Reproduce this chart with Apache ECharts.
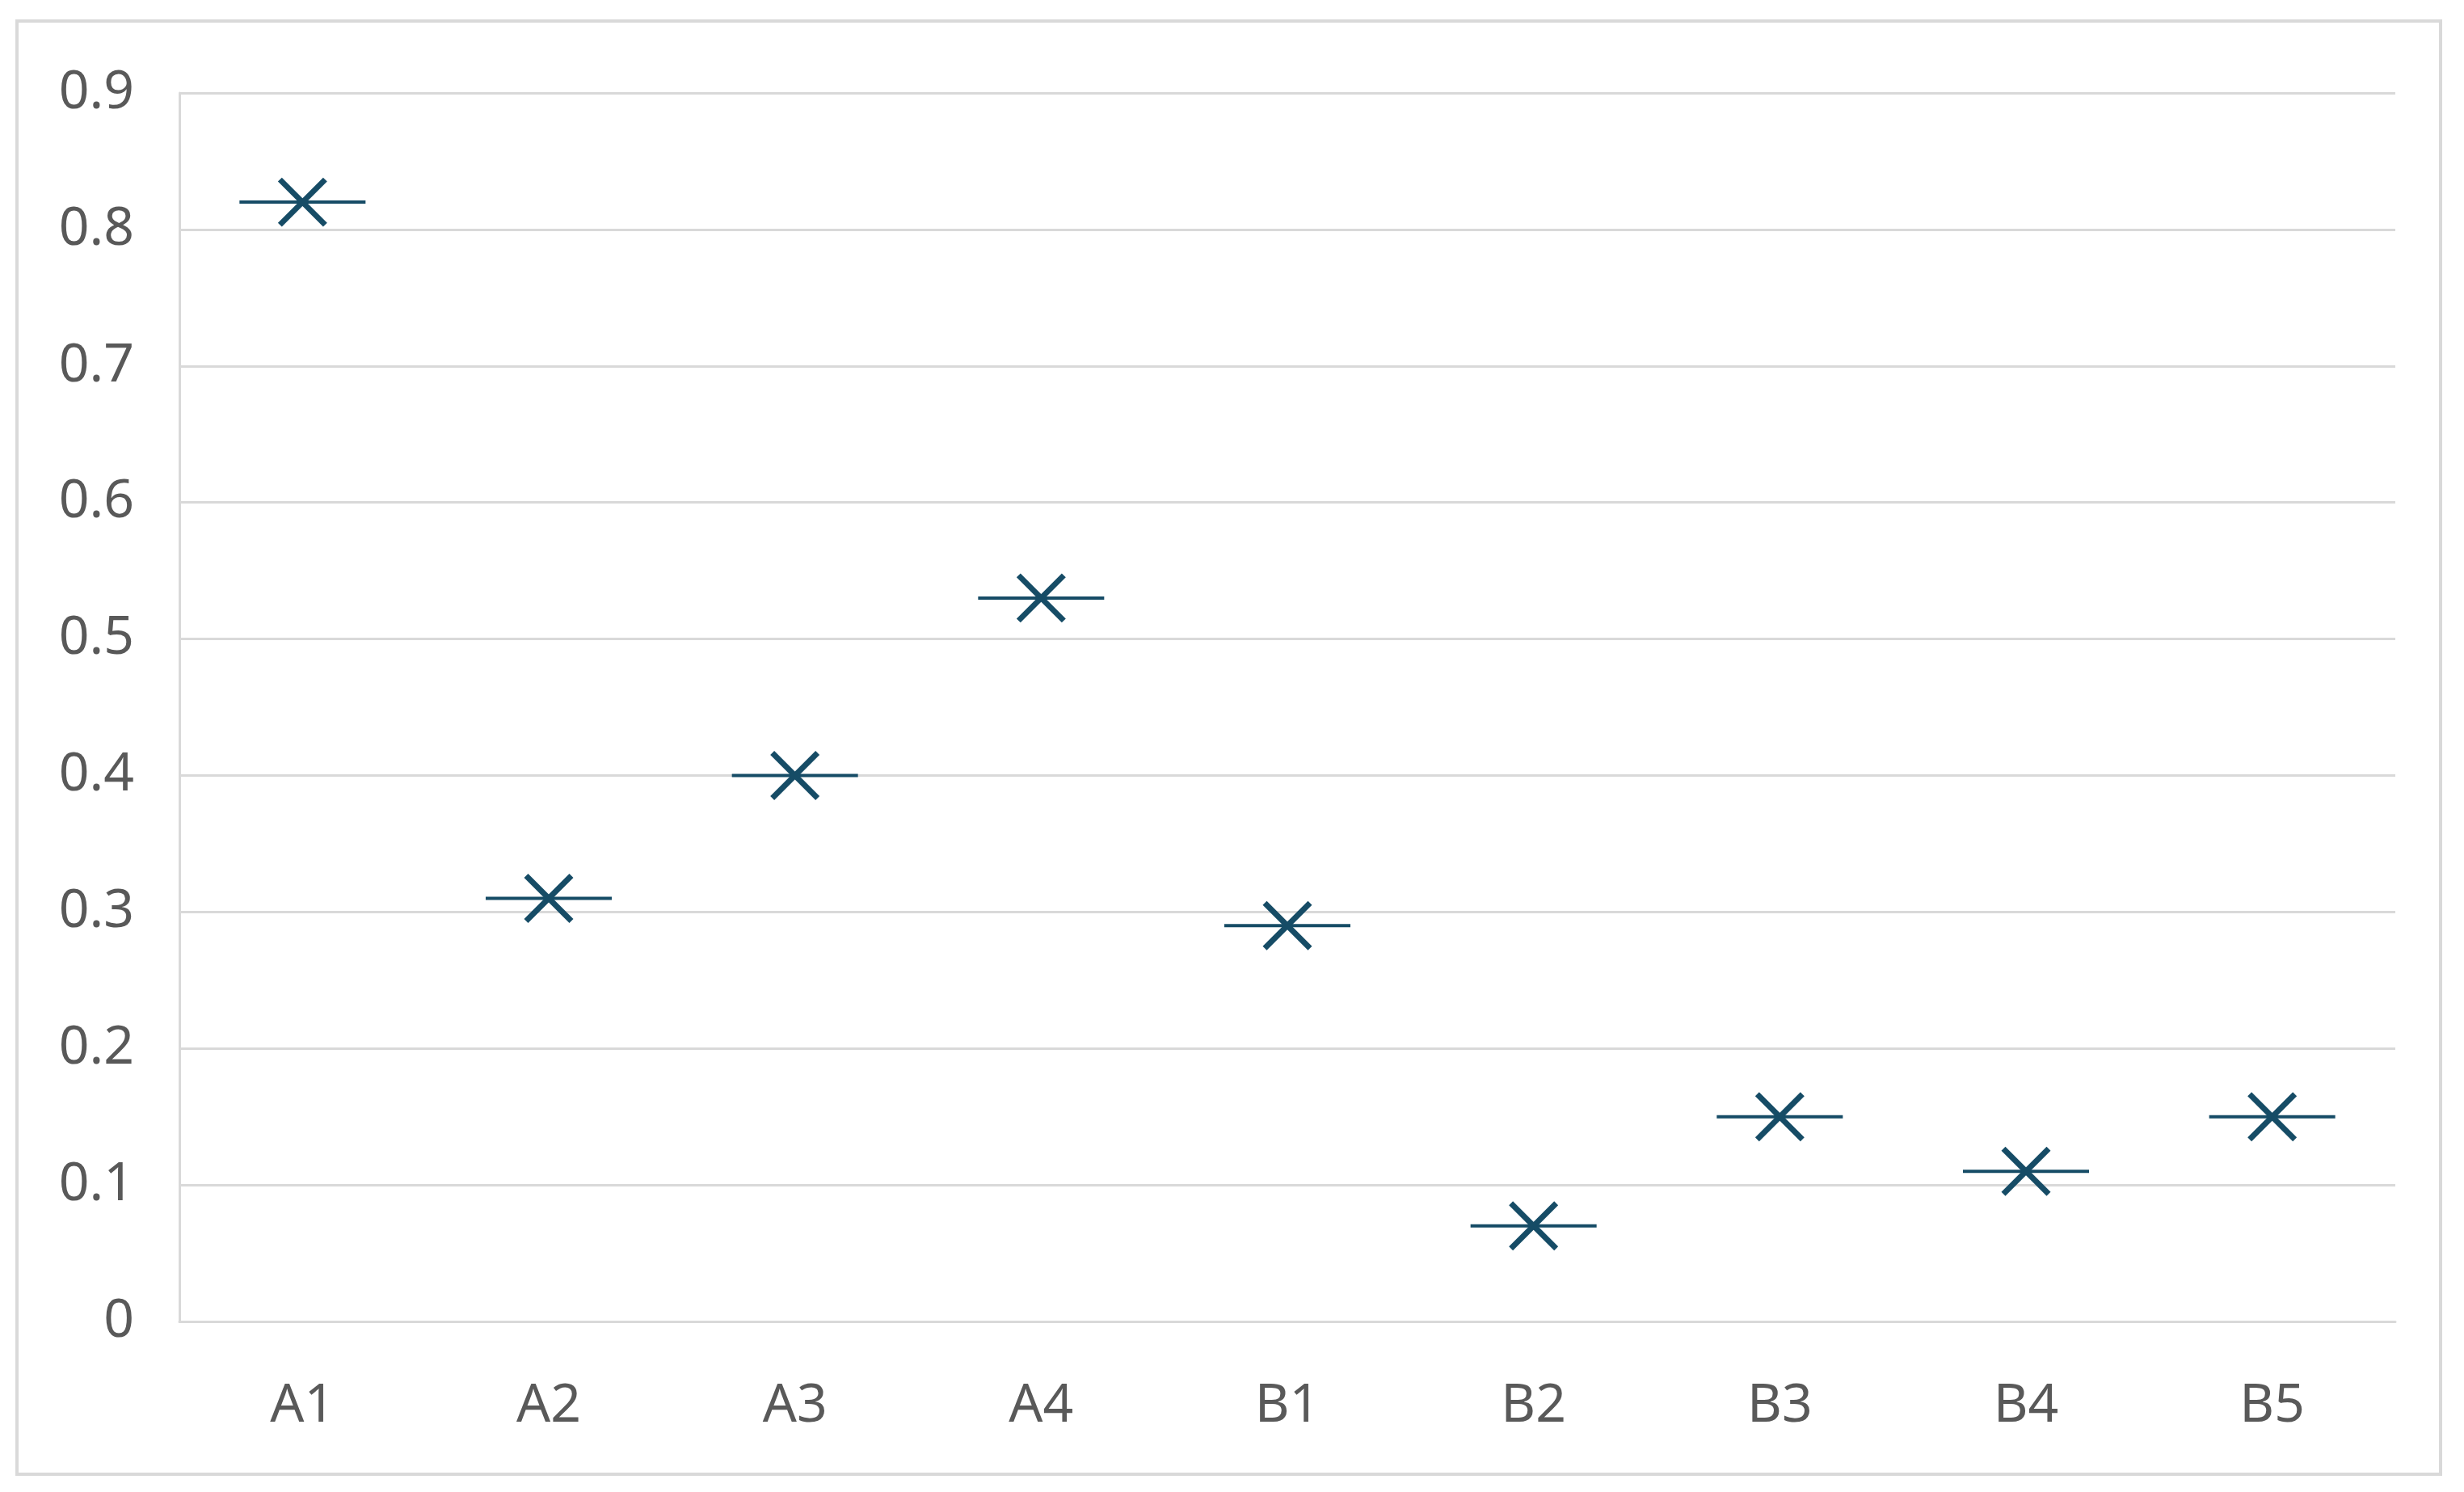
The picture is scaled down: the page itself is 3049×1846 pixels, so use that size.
<!DOCTYPE html>
<html>
<head>
<meta charset="utf-8">
<script src="https://cdn.jsdelivr.net/npm/echarts@6/dist/echarts.min.js"></script>
<style>
html,body{margin:0;padding:0;background:#fff;}
#chart{width:3049px;height:1846px;}
</style>
</head>
<body>
<div id="chart"></div>
<script>
const categories = ['A1','A2','A3','A4','B1','B2','B3','B4','B5'];
const values = [0.82, 0.31, 0.40, 0.53, 0.29, 0.07, 0.15, 0.11, 0.15];
const yTicks = [0, 0.1, 0.2, 0.3, 0.4, 0.5, 0.6, 0.7, 0.8, 0.9];

const markColor = '#164c66';
const gridColor = '#d9d9d9';
const textColor = '#595959';
const fontFamily = '"Noto Sans", "Open Sans", sans-serif';

const chart = echarts.init(document.getElementById('chart'));
chart.setOption({
  animation: false,
  backgroundColor: '#fff',
  graphic: [{
    type: 'rect',
    shape: {x: 21, y: 26, width: 2999, height: 1798},
    style: {fill: 'none', stroke: gridColor, lineWidth: 4},
    silent: true
  }],
  grid: {left: 222, top: 115, right: 85, bottom: 211, containLabel: false},
  xAxis: {
    type: 'category',
    data: categories,
    boundaryGap: true,
    axisLine: {show: true, lineStyle: {color: gridColor, width: 3}},
    axisTick: {show: false},
    axisLabel: {color: textColor, fontSize: 66, fontFamily: fontFamily, margin: 72}
  },
  yAxis: {
    type: 'value',
    min: yTicks[0],
    max: yTicks[yTicks.length - 1],
    interval: 0.1,
    axisLine: {show: true, lineStyle: {color: gridColor, width: 3}},
    axisTick: {show: false},
    splitLine: {show: true, lineStyle: {color: gridColor, width: 3}},
    axisLabel: {
      color: textColor, fontSize: 66, fontFamily: fontFamily, margin: 56,
      formatter: function (v) { return String(Math.round(v * 10) / 10); }
    }
  },
  series: [{
    type: 'custom',
    data: values.map((v, i) => [i, v]),
    encode: {x: 0, y: 1},
    renderItem: function (params, api) {
      const p = api.coord([api.value(0), api.value(1)]);
      const half = 78, xs = 28;
      return {
        type: 'group',
        children: [
          {type: 'line', shape: {x1: p[0] - half, y1: p[1], x2: p[0] + half, y2: p[1]},
           style: {stroke: markColor, lineWidth: 4}},
          {type: 'line', shape: {x1: p[0] - xs, y1: p[1] - xs, x2: p[0] + xs, y2: p[1] + xs},
           style: {stroke: markColor, lineWidth: 7}},
          {type: 'line', shape: {x1: p[0] - xs, y1: p[1] + xs, x2: p[0] + xs, y2: p[1] - xs},
           style: {stroke: markColor, lineWidth: 7}}
        ]
      };
    }
  }]
});
</script>
</body>
</html>
